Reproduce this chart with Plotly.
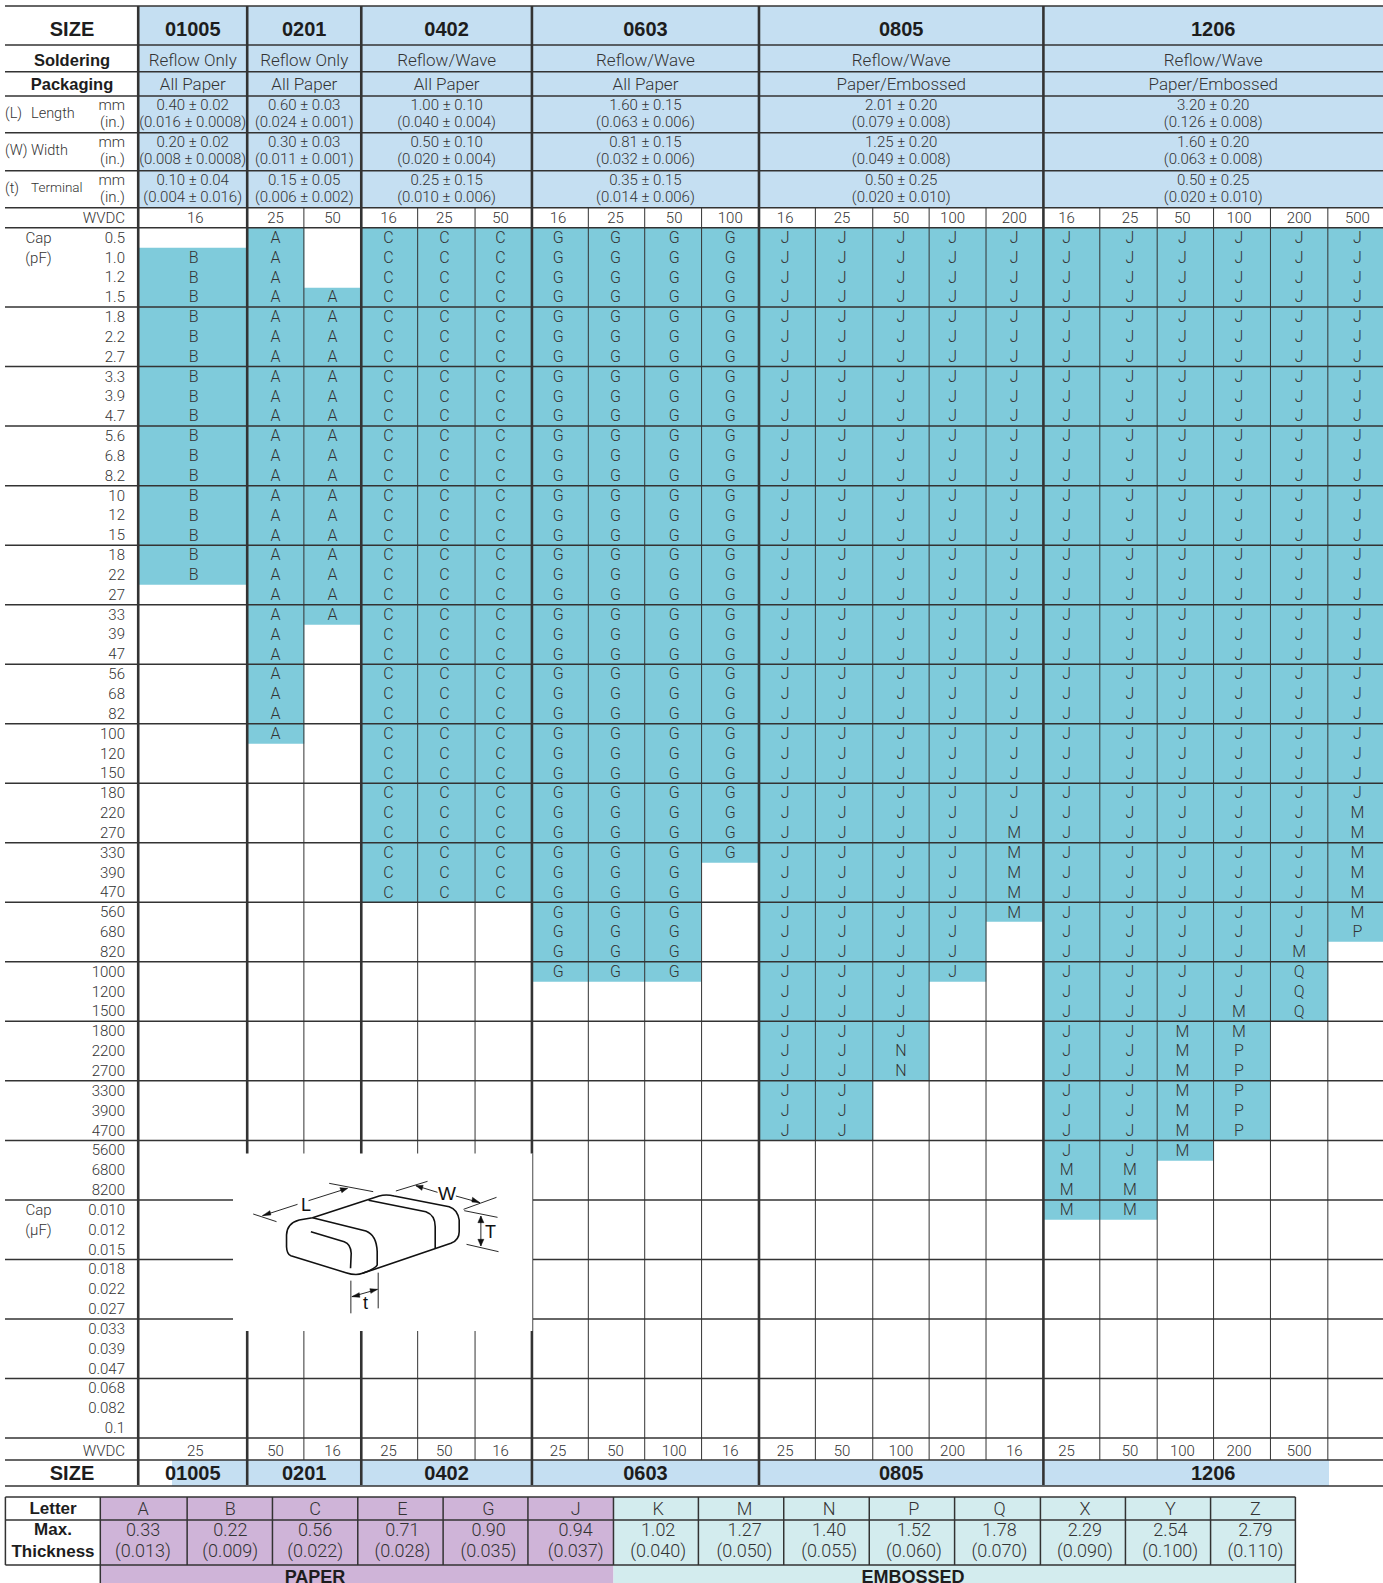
import plotly.graph_objects as go

# ---------- data ----------
SIZES = ["01005", "0201", "0402", "0603", "0805", "1206"]
SOLDERING = ["Reflow Only", "Reflow Only", "Reflow/Wave", "Reflow/Wave", "Reflow/Wave", "Reflow/Wave"]
PACKAGING = ["All Paper", "All Paper", "All Paper", "All Paper", "Paper/Embossed", "Paper/Embossed"]
LENGTH_MM = ["0.40 ± 0.02", "0.60 ± 0.03", "1.00 ± 0.10", "1.60 ± 0.15", "2.01 ± 0.20", "3.20 ± 0.20"]
LENGTH_IN = ["(0.016 ± 0.0008)", "(0.024 ± 0.001)", "(0.040 ± 0.004)", "(0.063 ± 0.006)", "(0.079 ± 0.008)", "(0.126 ± 0.008)"]
WIDTH_MM = ["0.20 ± 0.02", "0.30 ± 0.03", "0.50 ± 0.10", "0.81 ± 0.15", "1.25 ± 0.20", "1.60 ± 0.20"]
WIDTH_IN = ["(0.008 ± 0.0008)", "(0.011 ± 0.001)", "(0.020 ± 0.004)", "(0.032 ± 0.006)", "(0.049 ± 0.008)", "(0.063 ± 0.008)"]
TERM_MM = ["0.10 ± 0.04", "0.15 ± 0.05", "0.25 ± 0.15", "0.35 ± 0.15", "0.50 ± 0.25", "0.50 ± 0.25"]
TERM_IN = ["(0.004 ± 0.016)", "(0.006 ± 0.002)", "(0.010 ± 0.006)", "(0.014 ± 0.006)", "(0.020 ± 0.010)", "(0.020 ± 0.010)"]
WVDC_TOP = ["16", "25", "50", "16", "25", "50", "16", "25", "50", "100", "16", "25", "50", "100", "200",
            "16", "25", "50", "100", "200", "500"]
WVDC_BOTTOM = ["25", "50", "16", "25", "50", "16", "25", "50", "100", "16", "25", "50", "100", "200", "16",
               "25", "50", "100", "200", "500", ""]
CAPS = ["0.5", "1.0", "1.2", "1.5", "1.8", "2.2", "2.7", "3.3", "3.9", "4.7", "5.6", "6.8", "8.2",
        "10", "12", "15", "18", "22", "27", "33", "39", "47", "56", "68", "82", "100", "120", "150",
        "180", "220", "270", "330", "390", "470", "560", "680", "820", "1000", "1200", "1500",
        "1800", "2200", "2700", "3300", "3900", "4700", "5600", "6800", "8200",
        "0.010", "0.012", "0.015", "0.018", "0.022", "0.027", "0.033", "0.039", "0.047", "0.068", "0.082", "0.1"]
CODES = [
    " " + "B" * 17,
    "A" * 26,
    "   " + "A" * 17,
    "C" * 34, "C" * 34, "C" * 34,
    "G" * 38, "G" * 38, "G" * 38, "G" * 32,
    "J" * 46, "J" * 46, "J" * 41 + "NN", "J" * 38, "J" * 30 + "M" * 5,
    "J" * 47 + "MMM", "J" * 47 + "MMM", "J" * 40 + "M" * 7, "J" * 39 + "MM" + "P" * 5,
    "J" * 36 + "M" + "QQQ", "J" * 29 + "M" * 6 + "P",
]
LETTERS = ["A", "B", "C", "E", "G", "J", "K", "M", "N", "P", "Q", "X", "Y", "Z"]
THICK_MM = ["0.33", "0.22", "0.56", "0.71", "0.90", "0.94", "1.02", "1.27", "1.40", "1.52", "1.78", "2.29", "2.54", "2.79"]
THICK_IN = ["(0.013)", "(0.009)", "(0.022)", "(0.028)", "(0.035)", "(0.037)", "(0.040)", "(0.050)", "(0.055)",
            "(0.060)", "(0.070)", "(0.090)", "(0.100)", "(0.110)"]
N_PAPER = 6

# ---------- layout constants ----------
W, H = 1383, 1583
X0 = 5
KX = 0.998
XE = [x * KX for x in (138.5, 247.7, 304.5, 362, 418.5, 476, 533, 589.5, 646, 703, 760.5, 817, 874.5, 931, 988,
      1045.5, 1102, 1159.5, 1216, 1273, 1330.5)] + [1383]
COL_DX = [1, 0, 0, -1, -2, -3, -2, -1, 1, 0, -2, -2, 0, -5, -0.5, -5, 1.5, -3, -3, 0, 2]
GROUP_START = [0, 1, 3, 6, 10, 15, 21]
HEAD_Y = [6, 45, 71.7, 96, 132.7, 170.7, 207.7, 227.7]
ROW_H = (1438 - 227.7) / 61
YE = [227.7 + ROW_H * i for i in range(62)]
Y_WV, Y_S2 = 1460, 1486
LT_Y = [1497, 1520, 1565, 1590]
LT_X = [5.4] + [x * KX for x in (100.5, 187.5, 273, 358.5, 444, 529, 614.7, 699.8, 785.3, 871, 956.5, 1042.5, 1127.7, 1213, 1298)]
LT_DX = [-0.7, 0.5, 0, 2, 3, 5, 2.3, 3.5, 2.6, 2, 2, 2, 2.3, 2.5]

BLUE, TEAL, PURPLE, PALE = "#C5DFF2", "#7FCBDB", "#CFB4D8", "#D3ECEE"
INK, SOFT, LINE = "#1d1d1d", "#333333", "#333333"
LIGHT = "Roboto"
BOLD = "Liberation Sans"
RIGHT, LEFT = "middle left", "middle right"   # plotly names the side the text sits on
LABEL_X = 125

fig = go.Figure()

def text(xs, ys, ts, size, bold=False, pos="middle center", color=None):
    fig.add_trace(go.Scatter(
        x=xs, y=ys, text=ts, mode="text", textposition=pos, cliponaxis=False, hoverinfo="skip",
        showlegend=False,
        textfont=dict(family=BOLD if bold else LIGHT, size=size, weight=700 if bold else 300,
                      color=color or (INK if bold else SOFT))))

centers = [(XE[i] + XE[i + 1]) / 2 + COL_DX[i] for i in range(21)]
wv_x = [c + (1.5 if i == 0 else 0) for i, c in enumerate(centers)]
rowc = [(YE[i] + YE[i + 1]) / 2 + 1.3 for i in range(61)]
size_c = [(XE[GROUP_START[i]] + XE[GROUP_START[i + 1]]) / 2 for i in range(6)]

# filled cells
z = [[1 if r < len(CODES[c]) and CODES[c][r] != " " else None for c in range(21)] for r in range(61)]
fig.add_trace(go.Heatmap(x=XE, y=YE, z=z, zmin=0, zmax=1, showscale=False, hoverinfo="skip",
                         colorscale=[[0, TEAL], [1, TEAL]]))

# cell codes
cx, cy, ct = [], [], []
for c, s in enumerate(CODES):
    for r, ch in enumerate(s):
        if ch != " ":
            cx.append(centers[c]); cy.append(rowc[r]); ct.append(ch)
text(cx, cy, ct, 16)

# caps
text([LABEL_X] * 61, rowc, CAPS, 15, pos=RIGHT)

# header
text([72] + size_c, [30.5] * 7, ["SIZE"] + SIZES, 20, bold=True)
text([72], [61.5], ["Soldering"], 16.5, bold=True)
text([72], [85.5], ["Packaging"], 16.5, bold=True)
text(size_c, [61.5] * 6, SOLDERING, 17)
text(size_c, [85.5] * 6, PACKAGING, 17)
for y1, y2, a, b in [(106.2, 123.2, LENGTH_MM, LENGTH_IN), (143.2, 160.7, WIDTH_MM, WIDTH_IN), (181.2, 198.2, TERM_MM, TERM_IN)]:
    text(size_c, [y1] * 6, a, 15)
    text(size_c, [y2] * 6, b, 15)
    text([LABEL_X], [y1], ["mm"], 15, pos=RIGHT)
    text([LABEL_X], [y2], ["(in.)"], 15, pos=RIGHT)
text([5, 5, 5], [114, 151, 189], ["(L)", "(W)", "(t)"], 14.5, pos=LEFT)
text([31, 31], [114, 151], ["Length", "Width"], 14.5, pos=LEFT)
text([31], [189], ["Terminal"], 13.5, pos=LEFT)
text([LABEL_X], [219], ["WVDC"], 15, pos=RIGHT)
text(wv_x, [219] * 21, WVDC_TOP, 15)
text([LABEL_X], [1452], ["WVDC"], 15, pos=RIGHT)
text(wv_x, [1452] * 21, WVDC_BOTTOM, 15)
text([38.5, 38.5, 38.5, 38.5], [239, 259, 1211, 1231], ["Cap", "(pF)", "Cap", "(µF)"], 15)
text([72] + size_c, [1474.5] * 7, ["SIZE"] + SIZES, 20, bold=True)

# thickness table text
lc = [(LT_X[i + 1] + LT_X[i + 2]) / 2 + LT_DX[i] for i in range(14)]
text(lc, [1510] * 14, LETTERS, 18)
text(lc, [1531] * 14, THICK_MM, 18)
text(lc, [1552] * 14, THICK_IN, 18)
text([53, 53, 53], [1510, 1531, 1553], ["Letter", "Max.", "Thickness"], 17, bold=True)
text([315, 913], [1578.5, 1578.5], ["PAPER", "EMBOSSED"], 18, bold=True)

# ---------- shapes ----------
S = []
def rect(x0, y0, x1, y1, color, layer="below"):
    S.append(dict(type="rect", x0=x0, x1=x1, y0=y0, y1=y1, fillcolor=color, line=dict(width=0), layer=layer))
def line(x0, y0, x1, y1, w=1.0, color=LINE):
    S.append(dict(type="line", x0=x0, x1=x1, y0=y0, y1=y1, line=dict(color=color, width=w), layer="above"))

rect(XE[0], HEAD_Y[0], W, HEAD_Y[6], BLUE)
rect(172, Y_WV, 1329, Y_S2, BLUE)
rect(LT_X[1], LT_Y[0], LT_X[1 + N_PAPER], LT_Y[3], PURPLE)
rect(LT_X[1 + N_PAPER], LT_Y[0], LT_X[15], LT_Y[3], PALE)

for y in HEAD_Y:
    line(X0, y, W, y, 1.6)
for k in range(4, 62, 3):
    line(X0, YE[k], W, YE[k], 1.5)
for y in (Y_WV, Y_S2):
    line(X0, y, W, y, 1.6)
for i, x in enumerate(XE[:-1]):
    if i in GROUP_START:
        continue
    line(x, HEAD_Y[6], x, Y_WV, 1.0)
for i in GROUP_START[:-1]:
    line(XE[i], HEAD_Y[0], XE[i], Y_S2 - 1, 2.6)

for y in LT_Y[:3]:
    line(LT_X[0], y, LT_X[-1], y, 1.5)
line(LT_X[0], LT_Y[0], LT_X[0], LT_Y[2], 1.5)
line(LT_X[1], LT_Y[0], LT_X[1], H, 1.5)
line(LT_X[-1], LT_Y[0], LT_X[-1], H, 1.5)
for x in LT_X[2:-1]:
    line(x, LT_Y[0], x, LT_Y[2], 1.5)

# illustration (white panel + chip drawing)
OX, OY = 219.2, 1120
rect(233, 1153.5, 532.5, 1331, "#ffffff", layer="above")
line(532.5, 1153.5, 532.5, 1331, 1.0, "#777777")
def P(x, y):
    return f"{OX + x / 3:.2f},{OY + y / 3:.2f}"
def path(cmds, width=1.6, fill=None):
    out = []
    for c in cmds:
        out.append(c[0] + " ".join(P(*p) for p in c[1:]))
    S.append(dict(type="path", path=" ".join(out), layer="above",
                  line=dict(color="#111111", width=width),
                  fillcolor=fill if fill else "rgba(0,0,0,0)"))
path([("M", (280, 293)), ("L", (240, 300)), ("Q", (203, 310), (202, 345)), ("L", (202, 380)), ("Q", (203, 403), (215, 407)),
      ("L", (380, 458)), ("Q", (410, 468), (430, 460)), ("L", (695, 370)), ("Q", (720, 360), (720, 335)), ("L", (720, 300)),
      ("Q", (715, 268), (690, 260)), ("L", (525, 228)), ("Q", (500, 222), (480, 228)), ("L", (280, 293))])
path([("M", (280, 293)), ("L", (440, 333)), ("Q", (472, 345), (474, 395)), ("L", (474, 435)), ("Q", (470, 445), (430, 460))])
path([("M", (448, 241)), ("L", (620, 275)), ("Q", (648, 285), (648, 320)), ("L", (648, 385))])
path([("M", (275, 335)), ("L", (375, 365)), ("Q", (395, 372), (396, 400)), ("L", (394, 445))])
for a, b in [((102, 282), (172, 305)), ((330, 190), (462, 215)), ((130, 287), (235, 253)), ((268, 242), (385, 205)),
             ((530, 213), (625, 184)), ((733, 268), (832, 232)), ((590, 197), (655, 217)), ((710, 228), (782, 248)),
             ((735, 272), (835, 292)), ((742, 373), (838, 395)), ((785, 288), (785, 378)),
             ((395, 482), (395, 580)), ((477, 458), (477, 565)), ((398, 530), (475, 508))]:
    path([("M", a), ("L", b)], width=0.9)
for tri in [[(130, 287), (152, 272), (155, 285)], [(385, 205), (362, 203), (368, 218)],
            [(590, 197), (612, 196), (608, 211)], [(782, 248), (760, 232), (758, 246)],
            [(785, 288), (776, 308), (794, 308)], [(785, 378), (776, 358), (794, 358)],
            [(398, 530), (420, 518), (422, 532)], [(475, 508), (452, 506), (455, 520)]]:
    path([("M", tri[0]), ("L", tri[1]), ("L", tri[2]), ("L", tri[0])], width=0.5, fill="#111111")

ann = []
for t, x, y, sz in [("L", 260, 255, 18), ("W", 683, 220, 19), ("T", 815, 335, 18), ("t", 438, 550, 18)]:
    ann.append(dict(x=OX + x / 3, y=OY + y / 3, text=t, showarrow=False,
                    font=dict(family=BOLD, size=sz, color="#111111")))

fig.update_layout(
    width=W, height=H, margin=dict(l=0, r=0, t=0, b=0), paper_bgcolor="white", plot_bgcolor="white",
    showlegend=False, shapes=S, annotations=ann,
    xaxis=dict(range=[0, W], visible=False, fixedrange=True),
    yaxis=dict(range=[H, 0], visible=False, fixedrange=True),
)
fig.write_html("out.html", config=dict(displayModeBar=False),
               post_script="document.body.style.margin='0';document.body.style.overflow='hidden';")
